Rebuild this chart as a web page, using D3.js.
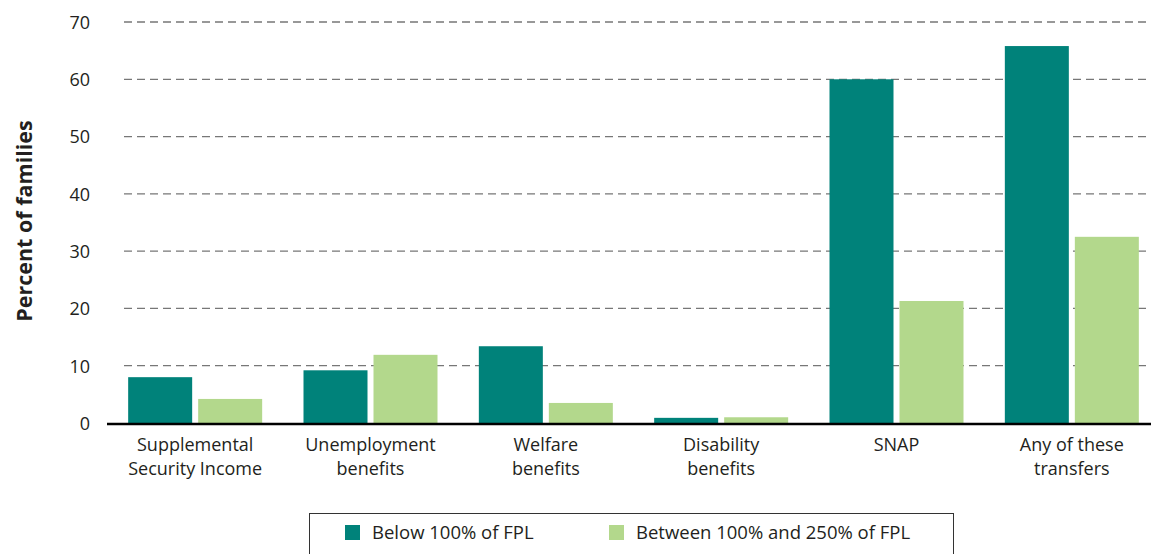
<!DOCTYPE html>
<html><head><meta charset="utf-8">
<script src="https://cdn.jsdelivr.net/npm/d3@7"></script>
<style>body{margin:0;background:#fff}svg{display:block}text{font-family:"Open Sans","Noto Sans",sans-serif;fill:#231f20}</style>
</head><body><svg id="c" width="1151" height="554"></svg>
<script>
const categories = [["Supplemental","Security Income"],["Unemployment","benefits"],["Welfare","benefits"],["Disability","benefits"],["SNAP"],["Any of these","transfers"]];
const seriesNames = ["Below 100% of FPL","Between 100% and 250% of FPL"];
const below100 = [8.0, 9.2, 13.4, 0.9, 60.0, 65.8];
const between100and250 = [4.2, 11.9, 3.5, 1.0, 21.3, 32.5];
const yTicks = [0,10,20,30,40,50,60,70];
const colors = ["#00827a","#b3d88c"];

const svg = d3.select("#c");
const y = d3.scaleLinear().domain([0,70]).range([423,22]);
const idx = d3.range(categories.length);
const x0 = d3.scaleBand().domain(idx).range([107.5,1159.5]).padding(0);
const groupW = 134;
const x1 = d3.scaleBand().domain([0,1]).range([0,groupW]).paddingInner(0.0857);

// gridlines
svg.append("g").selectAll("line").data(yTicks.filter(d=>d>0)).join("line")
  .attr("x1",124).attr("x2",1151).attr("y1",d=>y(d)).attr("y2",d=>y(d))
  .attr("stroke","#777").attr("stroke-width",1.3).attr("stroke-dasharray","8,5");

// y axis labels
const yAxis = d3.axisLeft(y).tickValues(yTicks).tickSize(0).tickPadding(0).tickFormat(d3.format("d"));
const ga = svg.append("g").attr("transform","translate(90,0)").call(yAxis);
ga.select(".domain").remove();
ga.selectAll("text").attr("font-size",18).attr("font-family","'Open Sans',sans-serif").attr("fill","#231f20").attr("dy","0.35em");

// bars
const data = [below100, between100and250];
data.forEach((vals,s)=>{
  svg.append("g").selectAll("rect").data(vals).join("rect")
    .attr("x",(d,i)=>x0(i)+(x0.bandwidth()-groupW)/2+x1(s))
    .attr("width",x1.bandwidth())
    .attr("y",d=>y(d)).attr("height",d=>y(0)-y(d))
    .attr("fill",colors[s]);
});

// x axis line
svg.append("line").attr("x1",107).attr("x2",1151).attr("y1",y(0)+1).attr("y2",y(0)+1)
  .attr("stroke","#000").attr("stroke-width",2.5);

// category labels (one text per line)
const lines = [];
categories.forEach((c,i)=>c.forEach((t,j)=>lines.push({i,j,t})));
svg.append("g").selectAll("text").data(lines).join("text")
  .attr("x",d=>x0(d.i)+x0.bandwidth()/2).attr("y",d=>451+d.j*24)
  .attr("text-anchor","middle").attr("font-size",18).text(d=>d.t);

// y title
svg.append("text").attr("transform","translate(32,221) rotate(-90)")
  .attr("text-anchor","middle").attr("font-size",21.5).attr("font-weight","bold").text("Percent of families");

// legend
const lg = svg.append("g");
lg.append("rect").attr("x",309.5).attr("y",513.5).attr("width",644).attr("height",50)
  .attr("fill","none").attr("stroke","#333").attr("stroke-width",1);
const lx = [345, 609];
seriesNames.forEach((n,i)=>{
  lg.append("rect").attr("x",lx[i]).attr("y",525).attr("width",15).attr("height",15).attr("fill",colors[i]);
  lg.append("text").attr("x",lx[i]+27).attr("y",539).attr("font-size",18.5).text(n);
});
</script></body></html>
